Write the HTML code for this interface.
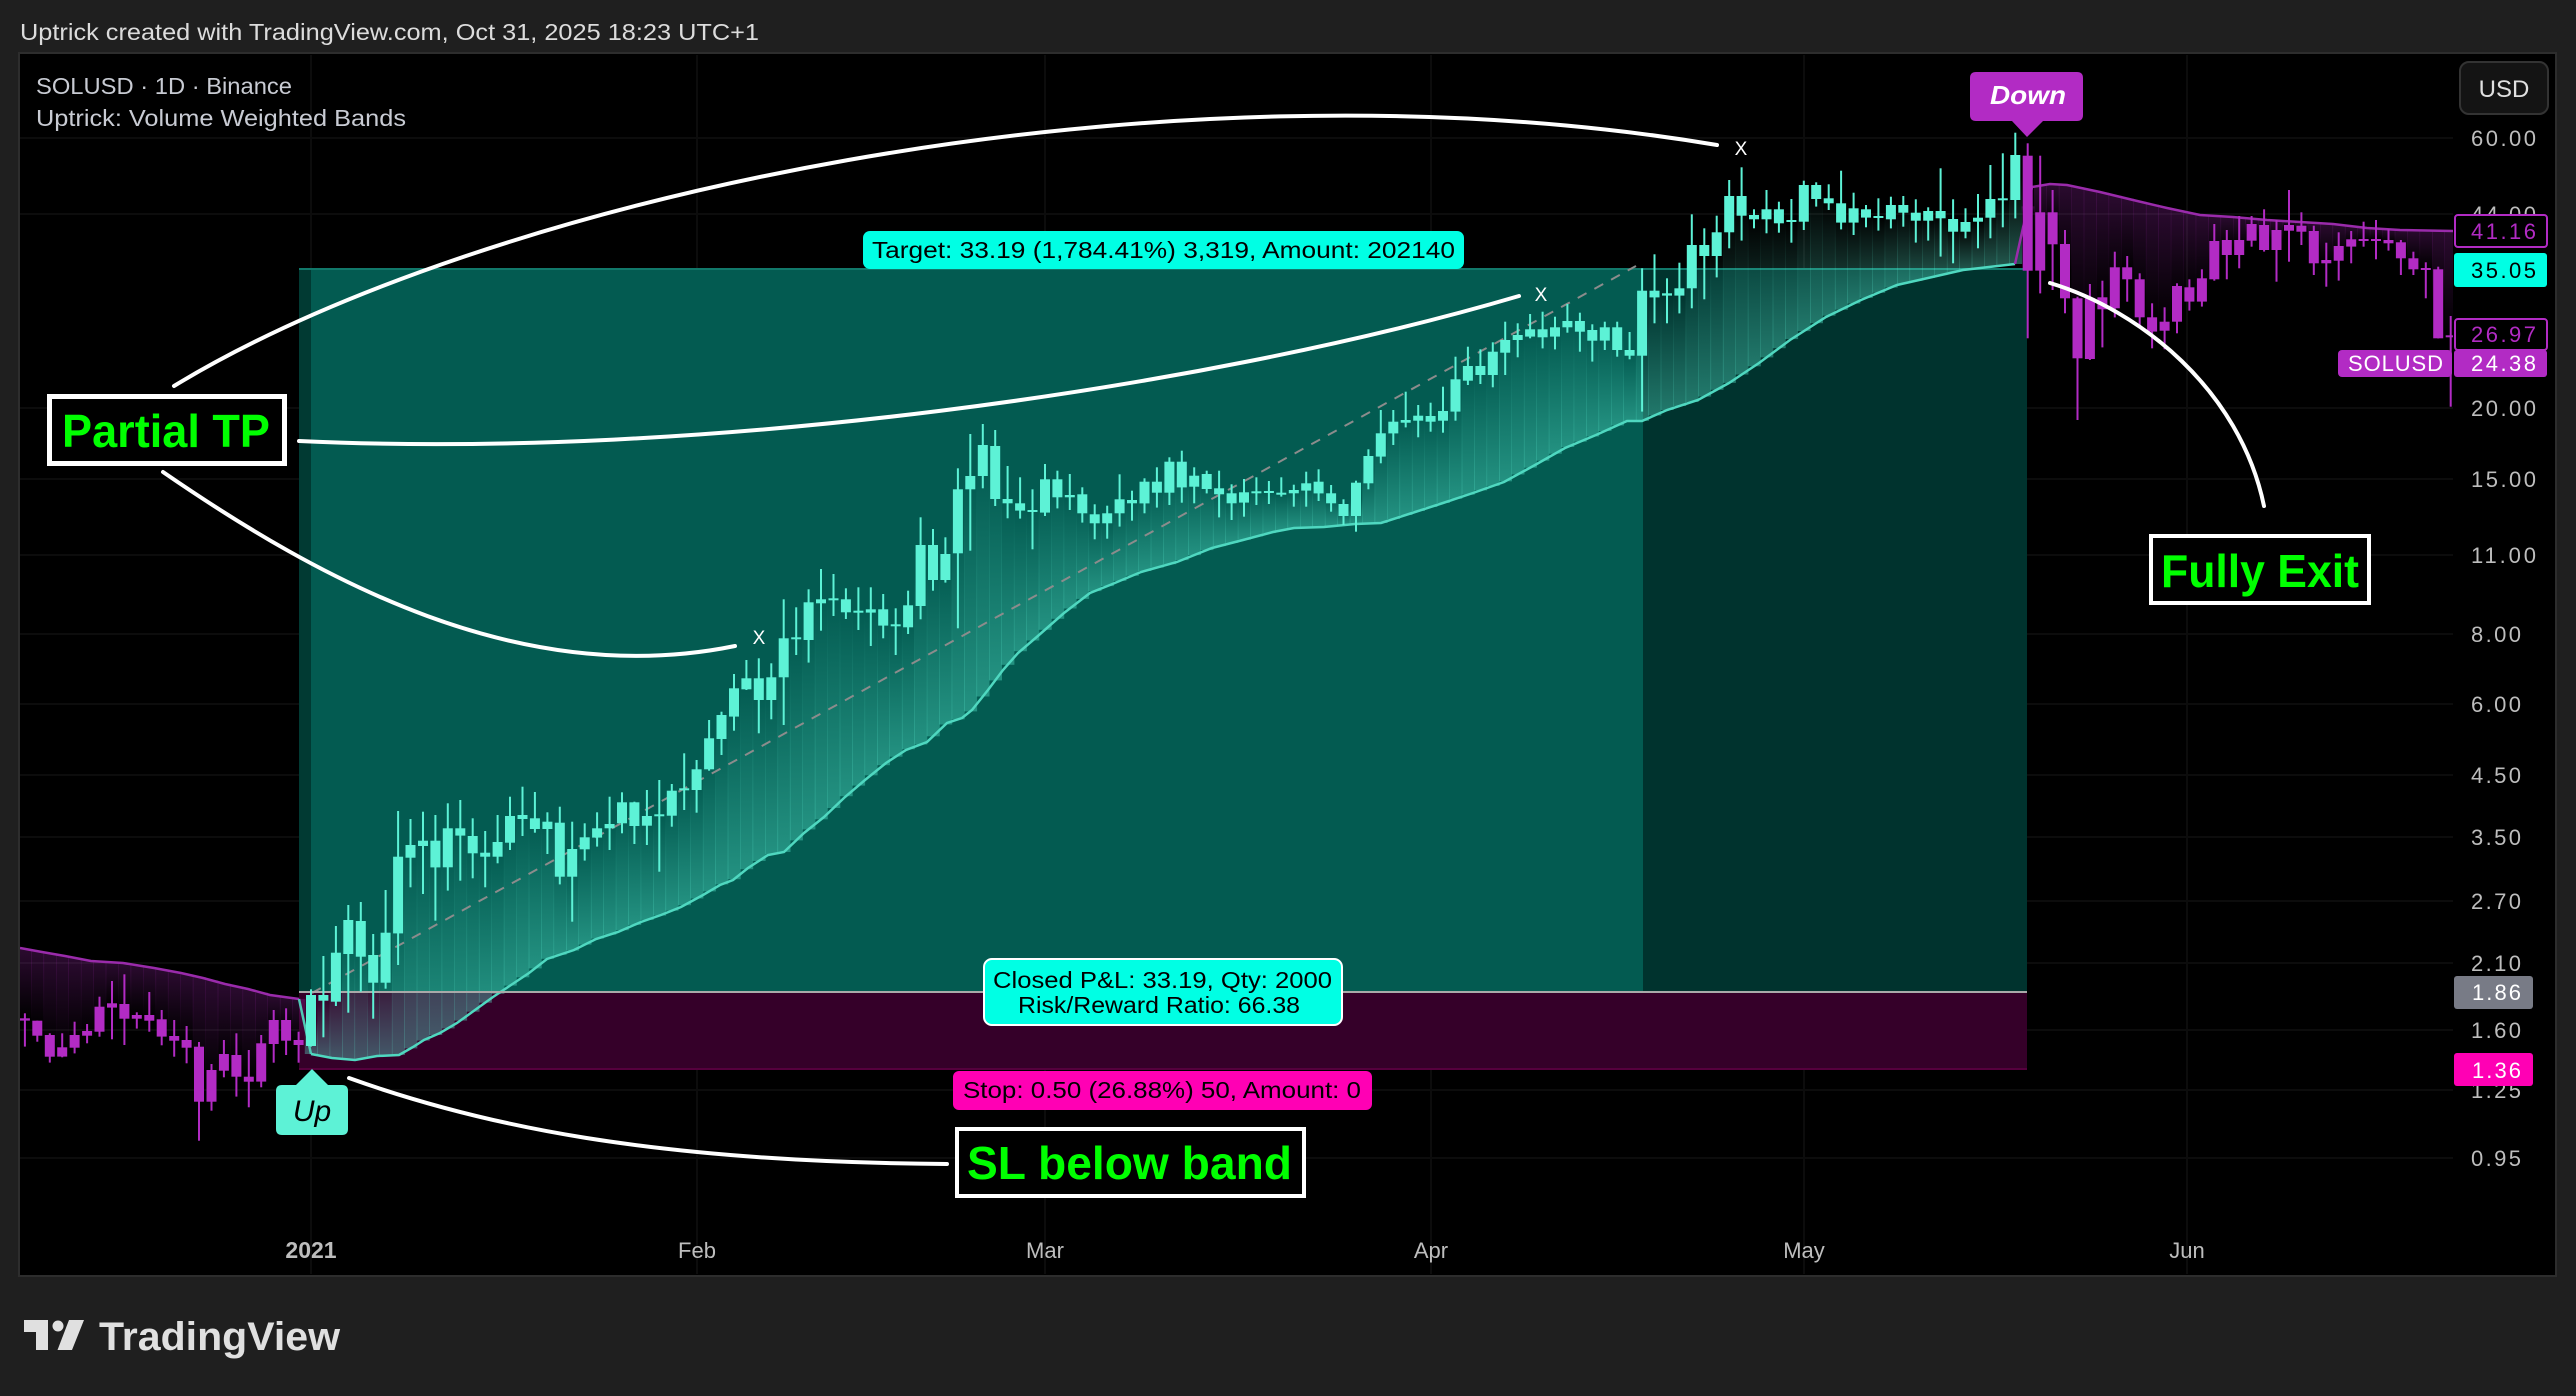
<!DOCTYPE html>
<html><head><meta charset="utf-8">
<style>
html,body{margin:0;padding:0;background:#1f1f1f;width:2576px;height:1396px;overflow:hidden;}
svg{display:block;}
text{font-family:"Liberation Sans",sans-serif;}
</style></head>
<body>
<svg id="s" width="2576" height="1396" viewBox="0 0 2576 1396" xmlns="http://www.w3.org/2000/svg">
<defs>
<linearGradient id="gc" x1="0" y1="0" x2="0" y2="1"><stop offset="0" stop-color="#5df2d6" stop-opacity="0"/><stop offset="1" stop-color="#5df2d6" stop-opacity="0.36"/></linearGradient>
<linearGradient id="gp" x1="0" y1="0" x2="0" y2="1"><stop offset="0" stop-color="#b22bc4" stop-opacity="0.24"/><stop offset="1" stop-color="#b22bc4" stop-opacity="0"/></linearGradient>
<clipPath id="plot"><rect x="20" y="55" width="2433" height="1219"/></clipPath>
</defs>
<rect width="2576" height="1396" fill="#1f1f1f"/>
<text x="20" y="40" font-size="23" fill="#dcdcdc" textLength="739" lengthAdjust="spacingAndGlyphs">Uptrick created with TradingView.com, Oct 31, 2025 18:23 UTC+1</text>
<rect x="19" y="53" width="2537" height="1223" fill="#000" stroke="#2d2d2d" stroke-width="2"/>

<g stroke="#0c0c0c" stroke-width="2">
<line x1="20" x2="2453" y1="138" y2="138"/><line x1="20" x2="2453" y1="214" y2="214"/><line x1="20" x2="2453" y1="408" y2="408"/><line x1="20" x2="2453" y1="479" y2="479"/><line x1="20" x2="2453" y1="555" y2="555"/><line x1="20" x2="2453" y1="634" y2="634"/><line x1="20" x2="2453" y1="704" y2="704"/><line x1="20" x2="2453" y1="775" y2="775"/><line x1="20" x2="2453" y1="837" y2="837"/><line x1="20" x2="2453" y1="901" y2="901"/><line x1="20" x2="2453" y1="963" y2="963"/><line x1="20" x2="2453" y1="1030" y2="1030"/><line x1="20" x2="2453" y1="1090" y2="1090"/><line x1="20" x2="2453" y1="1158" y2="1158"/>
<line x1="311" x2="311" y1="55" y2="1274"/><line x1="697" x2="697" y1="55" y2="1274"/><line x1="1045" x2="1045" y1="55" y2="1274"/><line x1="1431" x2="1431" y1="55" y2="1274"/><line x1="1804" x2="1804" y1="55" y2="1274"/><line x1="2187" x2="2187" y1="55" y2="1274"/>
</g>

<!-- trade boxes -->
<rect x="299" y="269" width="12" height="723" fill="#013a33"/>
<rect x="311" y="269" width="1332" height="723" fill="#035b51"/>
<rect x="1643" y="269" width="384" height="723" fill="#00332e"/>
<rect x="299" y="992" width="1728" height="78" fill="#350029"/>
<line x1="299" x2="2027" y1="269" y2="269" stroke="#11786a" stroke-width="2"/>
<line x1="299" x2="2027" y1="1069" y2="1069" stroke="#55003d" stroke-width="2"/>

<g id="strips" clip-path="url(#plot)"></g>
<g id="bands" fill="none" clip-path="url(#plot)"></g>
<line x1="312" y1="993" x2="1636" y2="266" stroke="#8c8c8c" stroke-width="2" stroke-dasharray="10 9"/>
<line x1="299" x2="2027" y1="992" y2="992" stroke="#a9a9a9" stroke-width="2"/>
<g id="candles" clip-path="url(#plot)"></g>

<!-- annotation curves -->
<g fill="none" stroke="#fff" stroke-width="4" stroke-linecap="round">
<path d="M174,386 C480,200 1150,50 1717,145"/>
<path d="M299,441 C700,460 1200,390 1519,296"/>
<path d="M163,472 C320,580 520,690 735,646"/>
<path d="M349,1078 C480,1125 650,1162 947,1164"/>
<path d="M2050,283 C2140,310 2240,390 2264,506"/>
</g>
<g fill="#fff" font-size="19" text-anchor="middle">
<text x="759" y="644">X</text><text x="1541" y="301">X</text><text x="1741" y="155">X</text>
</g>

<!-- labels -->
<rect x="863" y="231" width="601" height="38" rx="7" fill="#00ffe4"/>
<text x="872" y="258" font-size="23" fill="#000" textLength="583" lengthAdjust="spacingAndGlyphs">Target: 33.19 (1,784.41%) 3,319, Amount: 202140</text>

<rect x="984" y="959" width="358" height="66" rx="8" fill="#00ffe4" stroke="#fff" stroke-width="2"/>
<text x="993" y="988" font-size="23" fill="#000" textLength="339" lengthAdjust="spacingAndGlyphs">Closed P&amp;L: 33.19, Qty: 2000</text>
<text x="1018" y="1013" font-size="23" fill="#000" textLength="282" lengthAdjust="spacingAndGlyphs">Risk/Reward Ratio: 66.38</text>

<rect x="953" y="1071" width="419" height="39" rx="6" fill="#ff00b4"/>
<text x="963" y="1098" font-size="23" fill="#000" textLength="398" lengthAdjust="spacingAndGlyphs">Stop: 0.50 (26.88%) 50, Amount: 0</text>

<rect x="957" y="1129" width="347" height="67" fill="#000" stroke="#fff" stroke-width="4"/>
<text x="967" y="1179" font-size="46" font-weight="bold" fill="#00ff00" textLength="325" lengthAdjust="spacingAndGlyphs">SL below band</text>

<rect x="49.5" y="396.5" width="235" height="67" fill="#000" stroke="#fff" stroke-width="5"/>
<text x="62" y="447" font-size="46" font-weight="bold" fill="#00ff00" textLength="208" lengthAdjust="spacingAndGlyphs">Partial TP</text>

<rect x="2151" y="536" width="218" height="67" fill="#000" stroke="#fff" stroke-width="4"/>
<text x="2161" y="587" font-size="46" font-weight="bold" fill="#00ff00" textLength="198" lengthAdjust="spacingAndGlyphs">Fully Exit</text>

<path d="M282,1085 L296,1085 L312,1069 L328,1085 L342,1085 Q348,1085 348,1091 L348,1129 Q348,1135 342,1135 L282,1135 Q276,1135 276,1129 L276,1091 Q276,1085 282,1085 Z" fill="#5df2d6"/>
<text x="312" y="1121" font-family="Liberation Serif, serif" font-style="italic" font-size="30" fill="#000" text-anchor="middle">Up</text>

<path d="M1976,72 L2077,72 Q2083,72 2083,78 L2083,115 Q2083,121 2077,121 L2043,121 L2027,137 L2012,121 L1976,121 Q1970,121 1970,115 L1970,78 Q1970,72 1976,72 Z" fill="#b22bc4"/>
<text x="1990" y="104" font-family="Liberation Serif, serif" font-style="italic" font-weight="bold" font-size="26" fill="#fff" textLength="76" lengthAdjust="spacingAndGlyphs">Down</text>

<!-- legend -->
<text x="36" y="94" font-size="23" fill="#c8cbd3" textLength="256" lengthAdjust="spacingAndGlyphs">SOLUSD · 1D · Binance</text>
<text x="36" y="126" font-size="23" fill="#c8cbd3" textLength="370" lengthAdjust="spacingAndGlyphs">Uptrick: Volume Weighted Bands</text>

<!-- price axis -->
<g font-size="22" fill="#bdbdbd">
<text x="2471" y="146" textLength="65">60.00</text>
<text x="2471" y="222" textLength="65">44.00</text>
<text x="2471" y="416" textLength="65">20.00</text>
<text x="2471" y="487" textLength="65">15.00</text>
<text x="2471" y="563" textLength="65">11.00</text>
<text x="2471" y="642" textLength="50">8.00</text>
<text x="2471" y="712" textLength="50">6.00</text>
<text x="2471" y="783" textLength="50">4.50</text>
<text x="2471" y="845" textLength="50">3.50</text>
<text x="2471" y="909" textLength="50">2.70</text>
<text x="2471" y="971" textLength="50">2.10</text>
<text x="2471" y="1038" textLength="50">1.60</text>
<text x="2471" y="1098" textLength="50">1.25</text>
<text x="2471" y="1166" textLength="50">0.95</text>
</g>
<rect x="2460" y="62" width="88" height="52" rx="9" fill="#141414" stroke="#333" stroke-width="2"/>
<text x="2504" y="97" font-size="24" fill="#e0e0e0" text-anchor="middle">USD</text>

<rect x="2455" y="215" width="92" height="32" rx="3" fill="#000" stroke="#b22bc4" stroke-width="2"/>
<text x="2471" y="239" font-size="22" fill="#b22bc4" textLength="65">41.16</text>
<rect x="2454" y="253" width="93" height="34" rx="3" fill="#00ffe4"/>
<text x="2471" y="278" font-size="22" fill="#000" textLength="65">35.05</text>
<rect x="2455" y="319" width="92" height="31" rx="3" fill="#000" stroke="#b22bc4" stroke-width="2"/>
<text x="2471" y="342" font-size="22" fill="#b22bc4" textLength="65">26.97</text>
<rect x="2454" y="350" width="93" height="27" rx="3" fill="#b22bc4"/>
<text x="2471" y="371" font-size="22" fill="#fff" textLength="65">24.38</text>
<rect x="2338" y="350" width="114" height="27" rx="4" fill="#b22bc4"/>
<text x="2348" y="371" font-size="22" fill="#fff" textLength="95">SOLUSD</text>
<rect x="2454" y="976" width="79" height="33" rx="3" fill="#787b86"/>
<text x="2472" y="1000" font-size="22" fill="#fff" textLength="49">1.86</text>
<rect x="2454" y="1053" width="79" height="33" rx="3" fill="#ff00b4"/>
<text x="2472" y="1078" font-size="22" fill="#fff" textLength="49">1.36</text>

<!-- time axis -->
<g font-size="22" fill="#bdbdbd" text-anchor="middle">
<text x="311" y="1258" font-weight="bold" font-size="23">2021</text>
<text x="697" y="1258">Feb</text>
<text x="1045" y="1258">Mar</text>
<text x="1431" y="1258">Apr</text>
<text x="1804" y="1258">May</text>
<text x="2187" y="1258">Jun</text>
</g>

<!-- TradingView logo -->
<g fill="#e0e0e0">
<rect x="24" y="1320" width="24" height="12"/><rect x="36" y="1320" width="12" height="30"/>
<circle cx="58" cy="1326" r="5.5"/><polygon points="69,1320 84,1320 72,1350 57.5,1350"/>
</g>
<text x="99" y="1350" font-size="40" font-weight="bold" fill="#e0e0e0" textLength="241" lengthAdjust="spacingAndGlyphs">TradingView</text>
</svg>
<script>
(function(){
var NS="http://www.w3.org/2000/svg";
var X0=311,DX=12.44;
function xd(d){return X0+d*DX;}
var secs=[
{d0:-23,oy:750,c:[[790,805,812,890],[812,812,857,875],[850,855,920,938],[850,892,920,922],[815,855,893,910],[822,843,857,880],[740,770,845,860],[693,760,773,868],[673,762,806,885],[787,795,806,836],[726,795,812,845],[780,808,860,886],[810,858,872,920],[828,870,893,940],[876,890,1055,1172],[942,960,1055,1082],[870,912,962,982],[850,915,980,1040],[900,980,995,1072],[855,880,995,1012],[780,810,882,938],[775,810,872,915],[845,870,885,938],[718,735,888,890],[618,735,752,862],[528,608,755,768],[465,510,612,788],[456,513,620,725],[552,615,698,806],[420,548,698,716],[183,320,550,645],[207,285,323,412],[185,272,288,432],[195,272,352,512],[160,235,352,422],[150,235,257,392],[205,258,310,385],[243,308,320,412],[195,276,320,340],[140,198,278,300],[110,195,207,258],[126,205,237,248],[187,215,237,312],[170,218,380,403],[215,297,380,515],[220,262,298,332],[187,235,263,290]]},
{d0:24,oy:380,c:[[1250,1332,1345,1410],[1237,1267,1330,1360],[1265,1267,1338,1392],[1230,1308,1337,1395],[1200,1303,1306,1475],[1212,1232,1307,1340],[1120,1225,1228,1290],[1140,1168,1230,1298],[1020,1075,1168,1172],[995,1005,1077,1125],[882,925,1010,1052],[840,895,928,930],[835,895,960,1060],[850,892,960,1018],[658,775,892,1035],[682,772,776,825],[628,667,780,848],[567,658,670,752],[582,655,660,708],[625,658,697,717],[622,692,697,750],[622,688,698,798],[642,688,737,775],[685,733,737,825],[632,676,742,762],[412,495,678,718],[447,495,600,632],[472,522,600,608],[265,328,520,745],[162,288,328,512],[132,195,288,325],[150,198,357,378],[258,357,370,415],[292,370,392,416],[328,390,395,508],[252,298,398,408],[272,298,352,385],[282,345,352,390],[322,343,400,428],[373,403,430,478],[377,400,430,476],[283,358,400,440],[332,360,370,422],[295,305,370,400],[262,305,338,383],[232,245,338,375],[212,245,322,368],[262,287,320,370],[272,282,327,340],[272,325,343,412],[313,340,370,420],[297,337,368,410],[292,334,338,375],[303,333,337,372],[292,338,342,350],[314,330,340,380]]},
{d0:80,oy:120,c:[[1055,1090,1112,1160],[1048,1085,1120,1143],[1095,1120,1150,1175],[1138,1152,1188,1215],[1082,1088,1188,1235],[988,1008,1090,1108],[870,940,1010,1030],[870,905,940,975],[815,900,908,922],[855,887,902,952],[848,888,905,935],[800,873,902,938],[710,778,875,902],[680,738,782,795],[688,738,765,792],[667,695,765,802],[605,660,698,765],[610,645,660,712],[582,628,650,655],[575,628,652,685],[590,622,650,688],[552,603,622,638],[578,603,635,695],[613,630,662,725],[605,622,662,690],[605,622,690,710],[636,690,707,718],[445,512,707,875],[403,512,532,610],[475,520,527,610],[428,505,527,580],[283,375,505,565],[325,375,408,538],[287,337,408,472],[180,228,337,385],[142,228,287,362],[268,285,298,325],[210,268,298,340],[245,268,310,338],[237,300,305,368],[182,195,305,330],[187,195,237,260],[193,235,250,270],[152,250,308,328],[218,265,308,345],[255,268,293,322],[235,288,292,332],[230,255,298,325],[228,255,278,320],[238,278,302,368],[262,273,302,362],[145,273,295,410],[238,297,335,430],[265,306,335,355],[222,293,305,385],[135,237,293,355],[100,235,238,322],[38,105,240,295]]},
{d0:138,oy:60,c:[[250,287,632,835],[287,457,632,700],[390,457,553,690],[510,552,715,760],[710,715,895,1080],[672,715,897,900],[662,712,748,862],[575,622,745,772],[588,622,658,725],[640,658,772,800],[730,772,815,865],[742,785,812,868],[670,678,785,820],[658,682,725,752],[628,655,725,740],[492,543,658,662],[510,540,585,658],[468,540,585,625],[468,492,542,560],[448,495,570,575],[480,510,570,665],[390,495,512,605],[457,497,515,555],[497,513,610,645],[548,600,610,680],[517,558,602,662],[513,538,560,610],[485,537,541,560],[480,537,541,598],[508,540,550,572],[540,547,595,645],[575,595,628,645],[607,624,628,715],[620,628,835,835],[768,826,832,1040]]}
];
var purPre=[[20,948],[42,952],[65,956],[91,961],[123,963],[154,968],[181,973],[203,978],[225,984],[248,989],[270,995],[299,999]];
var cyan=[[311,1054],[332,1058],[355,1060],[377,1056],[399,1055],[413,1047],[424,1040],[440,1033],[457,1023],[475,1010],[493,997],[511,985],[529,973],[547,959],[574,950],[596,939],[618,932],[641,922],[661,915],[681,907],[703,895],[720,885],[733,880],[748,868],[768,855],[784,852],[804,833],[824,817],[845,797],[865,780],[886,763],[906,750],[927,742],[947,723],[962,718],[972,710],[988,690],[1003,670],[1018,653],[1039,635],[1064,613],[1090,593],[1110,585],[1141,572],[1177,562],[1212,548],[1243,540],[1273,532],[1294,528],[1324,527],[1355,524],[1381,523],[1412,513],[1443,503],[1473,493],[1504,482],[1535,465],[1565,448],[1596,435],[1627,421],[1642,421],[1667,410],[1698,400],[1729,383],[1759,363],[1790,340],[1826,317],[1861,300],[1897,285],[1928,278],[1963,270],[1989,267],[2015,264]];
var purPost=[[2015,264],[2032,187],[2050,184],[2067,185],[2100,192],[2133,200],[2167,208],[2200,215],[2233,217],[2267,220],[2300,222],[2333,224],[2367,228],[2400,230],[2455,231]];
function interp(pts,x){
  if(x<=pts[0][0])return pts[0][1];
  for(var i=1;i<pts.length;i++){if(x<=pts[i][0]){var a=pts[i-1],b=pts[i];return a[1]+(b[1]-a[1])*(x-a[0])/(b[0]-a[0]);}}
  return pts[pts.length-1][1];
}
function el(tag,attrs,parent){var e=document.createElementNS(NS,tag);for(var k in attrs)e.setAttribute(k,attrs[k]);parent.appendChild(e);return e;}
var gS=document.getElementById('strips'),gC=document.getElementById('candles'),gB=document.getElementById('bands');
secs.forEach(function(s){
  s.c.forEach(function(c,i){
    var d=s.d0+i,x=xd(d);
    var hi=s.oy+c[0]/3,top=s.oy+c[1]/3,bot=s.oy+c[2]/3,lo=s.oy+c[3]/3;
    var up=(d>=0&&d<=137);
    var mid=(top+bot)/2,b;
    if(up){b=interp(cyan,x);if(mid<b)el('rect',{x:(x-DX/2).toFixed(1),y:mid.toFixed(1),width:(DX+0.6).toFixed(1),height:(b-mid).toFixed(1),fill:'url(#gc)'},gS);}
    else{b=(d<0)?interp(purPre,x):interp(purPost,x);if(b<mid)el('rect',{x:(x-DX/2).toFixed(1),y:b.toFixed(1),width:(DX+0.6).toFixed(1),height:(mid-b).toFixed(1),fill:'url(#gp)'},gS);}
    var col=up?'#5df2d6':'#b22bc4';
    el('rect',{x:(x-1).toFixed(1),y:hi.toFixed(1),width:2,height:Math.max(1,lo-hi).toFixed(1),fill:col},gC);
    el('rect',{x:(x-5).toFixed(1),y:top.toFixed(1),width:10,height:Math.max(2,bot-top).toFixed(1),fill:col},gC);
  });
});
function pts2d(p){return 'M'+p.map(function(q){return q[0]+','+q[1];}).join(' L');}
el('path',{d:pts2d(purPre),stroke:'#9a2bab',"stroke-width":2.5},gB);
el('path',{d:'M299,999 L311,1054',stroke:'#4fc9b4',"stroke-width":2.5},gB);
el('path',{d:pts2d(cyan),stroke:'#4fd8c0',"stroke-width":2.5},gB);
el('path',{d:pts2d(purPost),stroke:'#9a2bab',"stroke-width":2.5},gB);
})();
</script>
</body></html>
